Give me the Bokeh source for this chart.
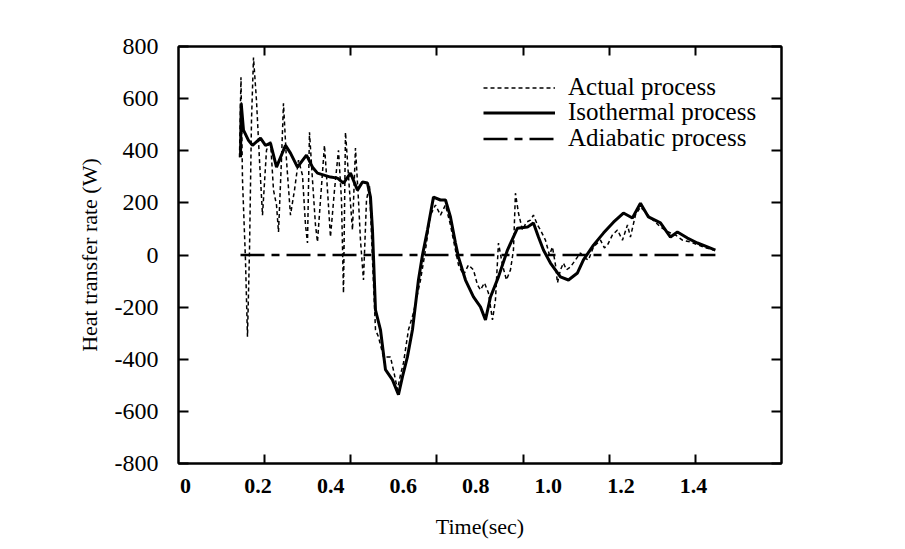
from bokeh.plotting import figure
from bokeh.models import (Range1d, LinearAxis, FixedTicker, CustomJSTickFormatter,
                          Legend, LegendItem, CustomLabelingPolicy)
from bokeh.embed import file_html
from bokeh.resources import INLINE

iso_t = [0.1516, 0.1535, 0.1598, 0.1736, 0.1846, 0.2067, 0.2204, 0.2342, 0.2508,
         0.2756, 0.2893, 0.3086, 0.3334, 0.3500, 0.3637, 0.3995, 0.4188, 0.4354,
         0.4547, 0.4740, 0.4877, 0.5015, 0.5098, 0.5153, 0.5236, 0.5373, 0.5511,
         0.5704, 0.5869, 0.5980, 0.6117, 0.6255, 0.6420, 0.6531, 0.6669, 0.6834,
         0.7027, 0.7165, 0.7302, 0.7440, 0.7523, 0.7716, 0.7936, 0.8129, 0.8267,
         0.8405, 0.8625, 0.8873, 0.9148, 0.9424, 0.9589, 0.9727, 0.9865, 1.0058,
         1.0333, 1.0554, 1.0802, 1.0967, 1.1243, 1.1518, 1.1794, 1.2069, 1.2317,
         1.2538, 1.2758, 1.3089, 1.3365, 1.3557, 1.3833, 1.4108, 1.4384, 1.4604]
iso_q = [375, 582, 479, 440, 421, 448, 421, 429, 337,
         421, 391, 337, 383, 337, 314, 299, 295, 276,
         314, 249, 280, 276, 222, 96, -211, -287, -440,
         -479, -536, -467, -390, -287, -96, 0, 96, 222,
         211, 211, 146, 46, -8, -96, -161, -199, -249,
         -161, -84, 19, 103, 107, 123, 69, 19, -31,
         -84, -96, -69, -19, 38, 84, 126, 161, 142,
         199, 146, 123, 69, 88, 65, 46, 31, 19]

act_t = [0.1488, 0.1529, 0.1571, 0.1653, 0.1708, 0.1764, 0.1819, 0.1874, 0.1956,
         0.2039, 0.2122, 0.2232, 0.2342, 0.2425, 0.2508, 0.2563, 0.2645, 0.2700,
         0.2783, 0.2893, 0.3004, 0.3114, 0.3224, 0.3307, 0.3362, 0.3417, 0.3500,
         0.3582, 0.3637, 0.3720, 0.3830, 0.3913, 0.3995, 0.4106, 0.4216, 0.4299,
         0.4354, 0.4409, 0.4519, 0.4602, 0.4684, 0.4767, 0.4822, 0.4905, 0.4988,
         0.5070, 0.5153, 0.5236, 0.5318, 0.5456, 0.5649, 0.5759, 0.5842, 0.5924,
         0.6007, 0.6145, 0.6283, 0.6476, 0.6613, 0.6751, 0.6889, 0.7027, 0.7165,
         0.7302, 0.7385, 0.7523, 0.7661, 0.7798, 0.7936, 0.8046, 0.8129, 0.8239,
         0.8349, 0.8460, 0.8542, 0.8625, 0.8735, 0.8845, 0.8956, 0.9038, 0.9093,
         0.9176, 0.9286, 0.9396, 0.9507, 0.9589, 0.9700, 0.9782, 0.9920, 1.0030,
         1.0113, 1.0196, 1.0251, 1.0333, 1.0416, 1.0499, 1.0609, 1.0747, 1.0884,
         1.0995, 1.1105, 1.1243, 1.1436, 1.1546, 1.1629, 1.1766, 1.1904, 1.2042,
         1.2180, 1.2262, 1.2400, 1.2538, 1.2676, 1.2813, 1.2951, 1.3089, 1.3310,
         1.3502, 1.3695, 1.3915, 1.4136, 1.4356, 1.4549]
act_q = [375, 682, 287, -19, -314, 19, 517, 758, 594,
         364, 153, 402, 440, 249, 192, 88, 364, 582,
         364, 153, 249, 364, 306, 115, 46, 471, 287,
         115, 50, 211, 421, 249, 69, 249, 402, 211,
         -146, 471, 249, 96, 410, 211, 57, -96, 211,
         268, -19, -287, -314, -391, -391, -460, -517, -460,
         -414, -287, -222, -96, 19, 153, 192, 153, 192,
         115, 57, -38, -77, -38, -57, -115, -134, -107,
         -146, -249, -172, 46, -38, -96, -57, 19, 237,
         161, 96, 126, 134, 153, 115, 96, 57, 0,
         31, -38, -107, -57, -31, -57, -46, -19, 8,
         -11, -19, 31, 57, 27, 38, 77, 96, 57,
         115, 69, 153, 184, 165, 142, 126, 107, 88,
         77, 57, 50, 38, 27, 19]

adi_t = [0.1516, 1.4604]
adi_q = [0, 0]

x_label_ticks = [0, 0.2, 0.4, 0.6, 0.8, 1.0, 1.2, 1.4]
frame_ticks = [0.2, 0.4, 0.6, 0.8, 1.0, 1.2]
y_ticks = [-800, -600, -400, -200, 0, 200, 400, 600, 800]
series_names = ["Actual process", "Isothermal process", "Adiabatic process"]
x_title = "Time(sec)"
y_title = "Heat transfer rate (W)"

SERIF = "Liberation Serif"


def no_labels():
    return CustomLabelingPolicy(code="for (let i = 0; i < indices.size; i++) { indices.unset(i) } return indices")


p = figure(width=885, height=545, output_backend="svg", toolbar_location=None,
           x_range=Range1d(-0.01929, 1.64252), y_range=Range1d(-800, 800),
           x_axis_location=None, y_axis_location="left",
           min_border_left=178, min_border_top=46, min_border_right=104,
           min_border_bottom=82)
p.extra_x_ranges = {"frame": Range1d(0, 1.4), "title": Range1d(0, 1)}
p.grid.visible = False
p.outline_line_color = "black"
p.outline_line_width = 2
p.background_fill_color = "white"
p.border_fill_color = "white"

# tick-mark axis along the bottom (no labels)
tick_axis = LinearAxis(x_range_name="frame", ticker=FixedTicker(ticks=frame_ticks),
                       major_tick_in=9, major_tick_out=0, minor_tick_line_color=None,
                       major_label_text_font_size="0px", major_label_standoff=0,
                       major_label_policy=no_labels(),
                       axis_line_width=2, major_tick_line_width=2)
p.add_layout(tick_axis, "below")

# labelled axis (printed labels)
label_axis = LinearAxis(ticker=FixedTicker(ticks=x_label_ticks),
                        formatter=CustomJSTickFormatter(code="return tick === 0 ? '0' : tick.toFixed(1);"),
                        axis_line_color=None, major_tick_line_color=None,
                        minor_tick_line_color=None, major_tick_in=0, major_tick_out=0,
                        major_label_standoff=15,
                        major_label_text_font=SERIF, major_label_text_font_size="22px",
                        major_label_text_font_style="bold",
                        major_label_text_color="black")
p.add_layout(label_axis, "below")

# title-only axis: its bounds put the title right of the frame centre, as printed
title_axis = LinearAxis(x_range_name="title", ticker=FixedTicker(ticks=[]),
                        bounds=(0.098, 1.0),
                        axis_line_color=None, major_tick_line_color=None,
                        minor_tick_line_color=None, major_tick_in=0, major_tick_out=0,
                        major_label_standoff=0, major_label_text_font_size="0px",
                        major_label_policy=no_labels(),
                        axis_label=x_title, axis_label_text_font=SERIF,
                        axis_label_text_font_size="22px",
                        axis_label_text_font_style="normal",
                        axis_label_text_color="black",
                        axis_label_standoff=18)
p.add_layout(title_axis, "below")

top_axis = LinearAxis(x_range_name="frame", ticker=FixedTicker(ticks=frame_ticks),
                      major_tick_in=9, major_tick_out=0, minor_tick_line_color=None,
                      major_label_text_font_size="0px", major_label_standoff=0,
                      major_label_policy=no_labels(),
                      axis_line_width=2, major_tick_line_width=2)
p.add_layout(top_axis, "above")

yax = p.yaxis[0]
yax.ticker = FixedTicker(ticks=y_ticks)
yax.formatter = CustomJSTickFormatter(code="return String(tick);")
yax.major_tick_in = 10
yax.major_tick_out = 0
yax.minor_tick_line_color = None
yax.axis_line_width = 2
yax.major_tick_line_width = 2
yax.major_label_standoff = 20
yax.major_label_text_font = SERIF
yax.major_label_text_font_size = "24px"
yax.major_label_text_color = "black"
yax.axis_label = y_title
yax.axis_label_text_font = SERIF
yax.axis_label_text_font_size = "22px"
yax.axis_label_text_font_style = "normal"
yax.axis_label_text_color = "black"
yax.axis_label_standoff = 10

right_axis = LinearAxis(ticker=FixedTicker(ticks=y_ticks), major_tick_in=10,
                        major_tick_out=0, minor_tick_line_color=None,
                        major_label_text_font_size="0px", major_label_standoff=0,
                        major_label_policy=no_labels(),
                        axis_line_width=2, major_tick_line_width=2)
p.add_layout(right_axis, "right")

r_act = p.line(act_t, act_q, line_color="black", line_width=1.5, line_dash="4 3")
r_iso = p.line(iso_t, iso_q, line_color="black", line_width=3)
r_adi = p.line(adi_t, adi_q, line_color="black", line_width=2.5, line_dash="24 7 8 7")

# one legend per row, so the rows sit as close as printed
legend_rows = [(series_names[0], r_act, 362), (series_names[1], r_iso, 337),
               (series_names[2], r_adi, 311)]
for name, rend, ypos in legend_rows:
    lg = Legend(items=[LegendItem(label=name, renderers=[rend])],
                location=(305, ypos), orientation="vertical",
                padding=0, margin=0, spacing=0,
                glyph_width=72, glyph_height=25, label_height=25,
                label_standoff=13,
                label_text_font=SERIF, label_text_font_size="25px",
                label_text_color="black",
                border_line_color=None, background_fill_alpha=0)
    p.add_layout(lg, "center")

open("out.html", "w").write(file_html(p, INLINE))
